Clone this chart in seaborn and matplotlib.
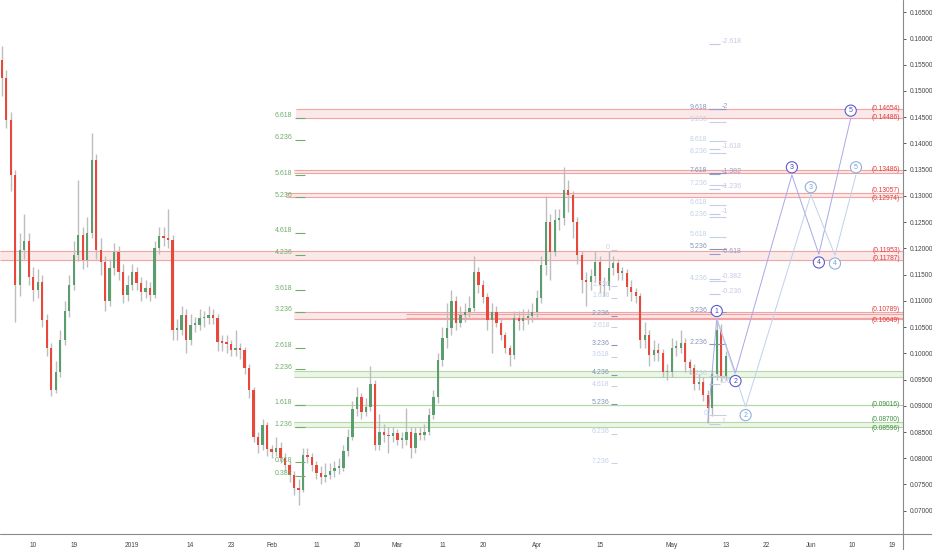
import matplotlib
matplotlib.use("Agg")
import pandas as pd
import matplotlib.pyplot as plt
import matplotlib.dates as mdates
from matplotlib.lines import Line2D
import seaborn as sns


# daily candles, first one on 2018-12-02
first_day = "2018-12-02"
first_open = 0.1615
closes = [0.1559, 0.1525, 0.1445, 0.1340, 0.1130, 0.1197, 0.1215, 0.1145, 0.1120, 0.1136,
          0.1063, 0.1010, 0.0930, 0.0964, 0.1025, 0.1080, 0.1130, 0.1188, 0.1225, 0.1178,
          0.1230, 0.1368, 0.1197, 0.1174, 0.1100, 0.1163, 0.1193, 0.1155, 0.1112, 0.1130,
          0.1155, 0.1134, 0.1117, 0.1124, 0.1112, 0.1200, 0.1223, 0.1220, 0.1216, 0.1045,
          0.1045, 0.1073, 0.1025, 0.1054, 0.1054, 0.1067, 0.1067, 0.1073, 0.1067, 0.1021,
          0.1020, 0.1018, 0.1006, 0.1010, 0.1006, 0.0972, 0.0930, 0.0841, 0.0826, 0.0864,
          0.0817, 0.0811, 0.0820, 0.0801, 0.0788, 0.0769, 0.0744, 0.0740, 0.0807, 0.0803,
          0.0788, 0.0771, 0.0765, 0.0769, 0.0775, 0.0782, 0.0782, 0.0813, 0.0841, 0.0893,
          0.0916, 0.0889, 0.0897, 0.0941, 0.0826, 0.0850, 0.0844, 0.0842, 0.0848, 0.0835,
          0.0835, 0.0850, 0.0820, 0.0848, 0.0844, 0.0850, 0.0882, 0.0916, 0.0987, 0.1029,
          0.1048, 0.1100, 0.1058, 0.1073, 0.1079, 0.1087, 0.1155, 0.1130, 0.1107, 0.1063,
          0.1079, 0.1058, 0.1034, 0.1010, 0.0996, 0.1067, 0.1061, 0.1067, 0.1071, 0.1079,
          0.1105, 0.1168, 0.1250, 0.1193, 0.1254, 0.1258, 0.1311, 0.1302, 0.1250, 0.1187,
          0.1140, 0.1136, 0.1147, 0.1174, 0.1130, 0.1128, 0.1163, 0.1172, 0.1153, 0.1153,
          0.1126, 0.1117, 0.1109, 0.1025, 0.1035, 0.0996, 0.1006, 0.1000, 0.0964, 0.0964,
          0.1010, 0.1010, 0.1020, 0.0983, 0.0972, 0.0941, 0.0945, 0.0921, 0.0896, 0.0960,
          0.1045, 0.0955, 0.0995]
highs = [0.1630, 0.1585, 0.1540, 0.1460, 0.1350, 0.1230, 0.1265, 0.1230, 0.1165, 0.1160,
         0.1150, 0.1075, 0.1020, 0.0985, 0.1045, 0.1100, 0.1150, 0.1215, 0.1330, 0.1240,
         0.1260, 0.1420, 0.1380, 0.1220, 0.1185, 0.1180, 0.1210, 0.1205, 0.1170, 0.1150,
         0.1170, 0.1165, 0.1145, 0.1140, 0.1135, 0.1215, 0.1240, 0.1240, 0.1275, 0.1225,
         0.1065, 0.1090, 0.1085, 0.1075, 0.1070, 0.1085, 0.1080, 0.1090, 0.1085, 0.1075,
         0.1035, 0.1035, 0.1025, 0.1045, 0.1020, 0.1012, 0.0980, 0.0935, 0.0850, 0.0875,
         0.0870, 0.0825, 0.0840, 0.0830, 0.0810, 0.0795, 0.0775, 0.0760, 0.0820, 0.0820,
         0.0810, 0.0795, 0.0785, 0.0790, 0.0790, 0.0795, 0.0800, 0.0825, 0.0855, 0.0910,
         0.0935, 0.0925, 0.0915, 0.0975, 0.0950, 0.0885, 0.0865, 0.0860, 0.0860, 0.0855,
         0.0850, 0.0895, 0.0860, 0.0860, 0.0860, 0.0865, 0.0895, 0.0930, 0.1000, 0.1050,
         0.1095, 0.1120, 0.1110, 0.1090, 0.1095, 0.1110, 0.1185, 0.1165, 0.1140, 0.1115,
         0.1095, 0.1090, 0.1065, 0.1040, 0.1015, 0.1080, 0.1080, 0.1085, 0.1085, 0.1095,
         0.1120, 0.1185, 0.1300, 0.1265, 0.1275, 0.1275, 0.1355, 0.1330, 0.1310, 0.1260,
         0.1195, 0.1155, 0.1160, 0.1195, 0.1185, 0.1145, 0.1195, 0.1185, 0.1180, 0.1165,
         0.1160, 0.1140, 0.1125, 0.1115, 0.1060, 0.1045, 0.1025, 0.1020, 0.1008, 0.0980,
         0.1030, 0.1025, 0.1045, 0.1030, 0.0990, 0.0980, 0.0960, 0.0955, 0.0930, 0.0970,
         0.1066, 0.1055, 0.1005]
lows = [0.1540, 0.1490, 0.1430, 0.1310, 0.1060, 0.1110, 0.1180, 0.1130, 0.1100, 0.1105,
        0.1050, 0.0995, 0.0918, 0.0925, 0.0955, 0.1015, 0.1070, 0.1120, 0.1175, 0.1160,
        0.1165, 0.1220, 0.1180, 0.1150, 0.1080, 0.1090, 0.1150, 0.1140, 0.1095, 0.1100,
        0.1120, 0.1120, 0.1100, 0.1105, 0.1100, 0.1105, 0.1190, 0.1205, 0.1200, 0.1025,
        0.1025, 0.1035, 0.1000, 0.1015, 0.1040, 0.1045, 0.1050, 0.1055, 0.1055, 0.1005,
        0.1005, 0.1000, 0.0995, 0.0995, 0.0990, 0.0960, 0.0915, 0.0830, 0.0810, 0.0815,
        0.0805, 0.0800, 0.0805, 0.0790, 0.0775, 0.0755, 0.0730, 0.0710, 0.0735, 0.0790,
        0.0775, 0.0760, 0.0750, 0.0755, 0.0760, 0.0765, 0.0770, 0.0775, 0.0805, 0.0835,
        0.0880, 0.0875, 0.0880, 0.0890, 0.0815, 0.0815, 0.0830, 0.0810, 0.0830, 0.0825,
        0.0820, 0.0825, 0.0800, 0.0810, 0.0835, 0.0835, 0.0845, 0.0875, 0.0905, 0.0975,
        0.1010, 0.1035, 0.1045, 0.1050, 0.1060, 0.1070, 0.1080, 0.1115, 0.1095, 0.1045,
        0.1000, 0.1050, 0.1025, 0.1000, 0.0975, 0.0990, 0.1045, 0.1045, 0.1055, 0.1060,
        0.1070, 0.1095, 0.1150, 0.1140, 0.1185, 0.1235, 0.1245, 0.1270, 0.1220, 0.1170,
        0.1115, 0.1090, 0.1120, 0.1135, 0.1115, 0.1110, 0.1120, 0.1150, 0.1140, 0.1140,
        0.1110, 0.1100, 0.1095, 0.1010, 0.1010, 0.0975, 0.0985, 0.0985, 0.0955, 0.0950,
        0.0955, 0.0995, 0.1000, 0.0965, 0.0960, 0.0930, 0.0930, 0.0910, 0.0868, 0.0880,
        0.0950, 0.0945, 0.0950]

# support / resistance zones
red_lo = [0.14486, 0.13442, 0.12974, 0.11787, 0.10649, 0.10680]
red_hi = [0.14654, 0.13486, 0.13057, 0.11953, 0.10789, 0.10740]
red_from = ["2019-02-06 12:00", "2019-02-06", "2019-02-04 07:00", None, "2019-02-06", "2019-03-03"]
red_labels = [0.14654, 0.14486, 0.13486, 0.13057, 0.12974, 0.11953, 0.11787, 0.10789, 0.10649]
green_lo = [0.09550, 0.09016, 0.08596]
green_hi = [0.09660, 0.09016, 0.08700]
green_from = ["2019-02-06", "2019-02-06", "2019-02-06"]
green_labels = [0.09016, 0.08700, 0.08596]

# fib extension labels: levels, price of level 0, price per level
fib1_levels = [0.382, 0.618, 1.236, 1.618, 2.236, 2.618, 3.236, 3.618, 4.236, 4.618, 5.236, 5.618, 6.236, 6.618]
fib1_zero, fib1_step = 0.07246, 0.01094
fib2_levels = [0, 1.236, 1.618, 2.236, 2.618, 3.236, 3.618, 4.236, 4.618, 5.236, 6.236, 7.236]
fib2_strong = [2.236, 3.236, 4.236, 5.236]
fib2_zero, fib2_step = 0.1197, -0.00562
fib3_levels = [0, 1.236, 2.236, 3.236, 4.236, 5.236, 5.618, 6.236, 6.618, 7.236, 7.618, 8.236, 8.618, 9.236, 9.618]
fib3_strong = [2.236, 3.236, 5.236, 7.618, 9.618]
fib3_zero, fib3_step = 0.0882, 0.00606
fib4_levels = [-2.618, -2, -1.618, -1.382, -1.236, -1, -0.618, -0.382, -0.236, 0.618, 1]
fib4_strong = [-2, -1.382, -0.618]
fib4_zero, fib4_step = 0.1066, -0.0200

# elliott wave projections
wave_dark_t = ["2019-05-09", "2019-05-11", "2019-05-15 04:00", "2019-05-27 17:00", "2019-06-02 17:00", "2019-06-09 19:00"]
wave_dark_p = [0.0868, 0.1066, 0.0963, 0.1340, 0.1189, 0.1448]
wave_light_t = ["2019-05-11", "2019-05-17 10:00", "2019-05-31 22:00", "2019-06-06 07:00", "2019-06-10 23:00"]
wave_light_p = [0.1066, 0.0898, 0.1302, 0.1187, 0.1340]

tick_days = ["2018-12-10", "2018-12-19", "2019-01-01", "2019-01-14", "2019-01-23", "2019-02-01",
             "2019-02-11", "2019-02-20", "2019-03-01", "2019-03-11", "2019-03-20", "2019-04-01",
             "2019-04-15", "2019-05-01", "2019-05-13", "2019-05-22", "2019-06-01", "2019-06-10", "2019-06-19"]
tick_names = ["10", "19", "2019", "14", "23", "Feb", "11", "20", "Mar", "11", "20", "Apr",
              "15", "May", "13", "22", "Jun", "10", "19"]
price_ticks = [0.07, 0.075, 0.08, 0.085, 0.09, 0.095, 0.10, 0.105, 0.11, 0.115, 0.12,
               0.125, 0.13, 0.135, 0.14, 0.145, 0.15, 0.155, 0.16, 0.165]


def num(s):
    return mdates.date2num(pd.Timestamp(s))


sns.set_style("white")
plt.rcParams["font.family"] = ["Liberation Sans", "DejaVu Sans"]

fig, ax = plt.subplots(figsize=(9.32, 5.5), dpi=100)
fig.subplots_adjust(left=0, right=903 / 932, bottom=16 / 550, top=1)

x_left, x_right = num("2018-12-02 15:00"), num("2019-06-21 10:00")
ax.set_xlim(x_left, x_right)
ax.set_ylim(0.06556, 0.16734)

# candles
dates = pd.date_range(first_day, periods=len(closes), freq="D")
candles = pd.DataFrame({"x": mdates.date2num(dates), "open": [first_open] + closes[:-1],
                        "high": highs, "low": lows, "close": closes})
rising = candles["close"] >= candles["open"]
body_lo = candles[["open", "close"]].min(axis=1)
body_h = (candles["close"] - candles["open"]).abs().clip(lower=0.0003)
ax.vlines(candles["x"], candles["low"], candles["high"], color="#bdbdbd", lw=1.0, zorder=3)
ax.bar(candles["x"], body_h, bottom=body_lo, width=0.5,
       color=["#5a9e6f" if r else "#e8473a" for r in rising], zorder=4, lw=0)


def side_label(v, color, pairs):
    # nudge the upper / lower label of a tight pair apart a little
    dy = 0.5
    for a, b in pairs:
        if v == a:
            dy = 1.8
        elif v == b:
            dy = -1.0
    ax.annotate(f"({v:.5f})", xy=(1, v), xycoords=("axes fraction", "data"), xytext=(-2, dy),
                textcoords="offset points", ha="right", va="center", fontsize=4.8, color=color, zorder=8)


# zones
for lo, hi, start in zip(red_lo, red_hi, red_from):
    x0 = x_left if start is None else num(start)
    ax.fill_between([x0, x_right], lo, hi, color="#fbe4e4", alpha=0.8, zorder=1, lw=0)
    ax.hlines([lo, hi], x0, x_right, color="#f2a3a3", lw=0.8, zorder=2)
for v in red_labels:
    side_label(v, "#e03c3c", [(0.13057, 0.12974), (0.10789, 0.10649)])
for lo, hi, start in zip(green_lo, green_hi, green_from):
    x0 = num(start)
    ax.fill_between([x0, x_right], lo, hi, color="#e8f3e2", alpha=0.8, zorder=1, lw=0)
    ax.hlines([lo, hi], x0, x_right, color="#b5d8a8", lw=0.8, zorder=2)
for v in green_labels:
    side_label(v, "#3f8f3f", [(0.08700, 0.08596)])


def fib_labels(levels, zero, step, tx, lx0, lx1, strong, c_strong, c_weak, ha="right"):
    for lv in levels:
        p = zero + lv * step
        col = c_strong if lv in strong else c_weak
        ax.annotate(f"{lv:g}", xy=(num(tx), p), xytext=(0, 1.5), textcoords="offset points",
                    ha=ha, va="center", fontsize=5, color=col, zorder=5)
        ax.hlines(p, num(lx0), num(lx1), color=col, lw=0.8, zorder=5)


fib_labels(fib1_levels, fib1_zero, fib1_step, "2019-02-05 15:00", "2019-02-06 07:00", "2019-02-08 13:00",
           [], "#6fae6a", "#6fae6a")
fib_labels(fib2_levels, fib2_zero, fib2_step, "2019-04-17 05:00", "2019-04-17 11:00", "2019-04-18 20:00",
           fib2_strong, "#8595bb", "#c4d0e8")
fib_labels(fib3_levels, fib3_zero, fib3_step, "2019-05-08 22:00", "2019-05-09 08:00", "2019-05-12 23:00",
           fib3_strong, "#8595bb", "#c4d0e8")
fib_labels(fib4_levels, fib4_zero, fib4_step, "2019-05-12 02:00", "2019-05-09 08:00", "2019-05-11 15:00",
           fib4_strong, "#9c9cc8", "#c8c8e4", ha="left")

# wave paths
sns.lineplot(x=[num(t) for t in wave_dark_t], y=wave_dark_p, sort=False, estimator=None,
             color="#a8a8e8", lw=0.7, ax=ax, zorder=6)
sns.lineplot(x=[num(t) for t in wave_light_t], y=wave_light_p, sort=False, estimator=None,
             color="#c0d0ea", lw=0.7, ax=ax, zorder=6)


def wave_marks(ts, ps, first, edge, txt):
    for k, (t, p) in enumerate(zip(ts, ps)):
        n = first + k
        up = n % 2 == 1
        ax.annotate(str(n), xy=(num(t), p), xytext=(0, 5.5 if up else -6), textcoords="offset points",
                    ha="center", va="center", fontsize=5, color=txt, zorder=7,
                    bbox=dict(boxstyle="circle,pad=0.3", fc="white", ec=edge, lw=0.8))


wave_marks(wave_dark_t[1:], wave_dark_p[1:], 1, "#5b5bd0", "#4b4bc4")
wave_marks(wave_light_t[1:], wave_light_p[1:], 2, "#8fb2da", "#7a9fcc")

# axes
ax.set_xticks([num(t) for t in tick_days])
ax.set_xticklabels(tick_names)
ax.yaxis.tick_right()
ax.set_yticks(price_ticks)
ax.set_yticklabels([f"{v:.5f}" for v in price_ticks])
ax.tick_params(axis="both", labelsize=4.7, colors="#444444", length=2, width=0.6, pad=2.5)
ax.tick_params(axis="x", pad=3.5)
for s in ax.spines.values():
    s.set_visible(False)
fig.add_artist(Line2D([0, 1], [16 / 550, 16 / 550], transform=fig.transFigure, color="#8a8a8a", lw=0.8))
fig.add_artist(Line2D([903 / 932, 903 / 932], [0, 1], transform=fig.transFigure, color="#8a8a8a", lw=0.8))

plt.savefig("out.png", dpi=100)
